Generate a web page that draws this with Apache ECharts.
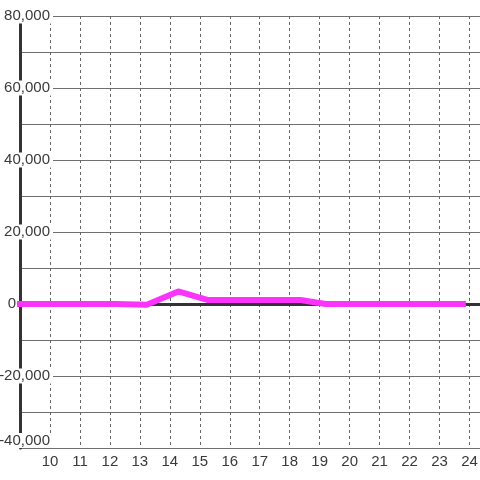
<!DOCTYPE html>
<html>
<head>
<meta charset="utf-8">
<script src="https://cdn.jsdelivr.net/npm/echarts@6/dist/echarts.min.js"></script>
<style>
  html, body { margin: 0; padding: 0; background: #fff; }
  #main { width: 480px; height: 480px; }
</style>
</head>
<body>
<div id="main"></div>
<script>
// hour of day vs value
var hours  = [8.9, 10.2, 11.2, 12.2, 13.23, 14.28, 15.28, 16.3, 17.3, 18.36, 19.2, 20.2, 21.2, 22.2, 23.88];
var values = [0, 0, 0, 0, -200, 3500, 1100, 1100, 1100, 1100, 0, 0, 0, 0, 0];

var xMin = 9, xMax = 24.35;
var yMin = -40000, yMax = 80000;

var points = [];
for (var i = 0; i < hours.length; i++) points.push([hours[i], values[i]]);

var myChart = echarts.init(document.getElementById('main'));
var option = {
  backgroundColor: '#fff',
  animation: false,
  grid: { left: 20, right: 0, top: 16, bottom: 32, containLabel: false, outerBoundsMode: 'none' },
  xAxis: {
    type: 'value',
    min: xMin, max: xMax, interval: 1,
    axisLine: { show: false },
    axisTick: { show: false },
    axisLabel: {
      showMinLabel: false, showMaxLabel: false,
      color: '#3a3a3a', fontSize: 15, fontFamily: 'Liberation Sans', margin: 6
    },
    splitLine: { show: true, lineStyle: { color: '#666', width: 1, type: [3, 3] } }
  },
  yAxis: {
    type: 'value',
    min: yMin, max: yMax, interval: 20000,
    axisLine: { show: true, lineStyle: { color: '#333', width: 3 } },
    axisTick: { show: false },
    axisLabel: {
      margin: -33,
      verticalAlignMinLabel: 'bottom',
      formatter: function (v) {
        if (v === 0) return '{z|0}';
        return '{n|' + echarts.format.addCommas(v) + '}';
      },
      rich: {
        n: { color: '#3a3a3a', fontSize: 15, fontFamily: 'Liberation Sans', backgroundColor: '#fff', padding: [0, 3, 0, 1] },
        z: { color: '#3a3a3a', fontSize: 15, fontFamily: 'Liberation Sans', padding: [0, 37, 0, 0] }
      }
    },
    splitLine: { show: true, lineStyle: { color: '#6f6f6f', width: 1 } },
    minorTick: { show: false, splitNumber: 2 },
    minorSplitLine: { show: true, lineStyle: { color: '#6f6f6f', width: 1 } }
  },
  series: [{
    // dark line along zero, under the data line
    type: 'line',
    data: [],
    z: 1,
    markLine: {
      z: 1,
      silent: true,
      symbol: 'none',
      label: { show: false },
      lineStyle: { color: '#333', width: 3, type: 'solid' },
      data: [{ yAxis: 0 }]
    }
  }, {
    type: 'line',
    data: points,
    z: 3,
    clip: false,
    symbol: 'none',
    lineStyle: { color: '#fb33fb', width: 6 }
  }]
};
myChart.setOption(option);
</script>
</body>
</html>
